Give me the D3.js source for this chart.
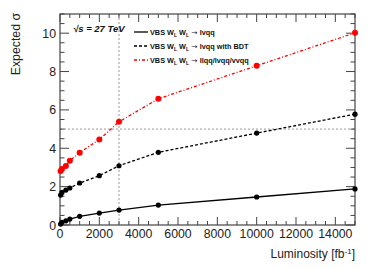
<!DOCTYPE html>
<html><head><meta charset="utf-8">
<script src="https://cdn.jsdelivr.net/npm/d3@7"></script>
<style>body{margin:0;background:#fff}svg{display:block}</style>
</head><body>
<svg id="c" width="374" height="269"></svg>
<script>
const lumi = [30, 100, 300, 500, 1000, 2000, 3000, 5000, 10000, 15000];
const sigLvqq = [0.05, 0.14, 0.22, 0.31, 0.45, 0.62, 0.78, 1.04, 1.46, 1.88];
const sigLvqqBDT = [1.56, 1.70, 1.82, 1.93, 2.19, 2.57, 3.09, 3.79, 4.79, 5.78];
const sigComb = [2.81, 2.92, 3.07, 3.35, 3.77, 4.46, 5.38, 6.58, 8.30, 10.02];
const xTicks = [0, 2000, 4000, 6000, 8000, 10000, 12000, 14000];
const yTicks = [0, 2, 4, 6, 8, 10];
const legendLabels = ["lvqq", "lvqq with BDT", "llqq/lvqq/vvqq"];

const svg = d3.select("#c");
const L = 60, R = 355, T = 14, B = 225;
const x = d3.scaleLinear().domain([0, 15000]).range([L, R]);
const y = d3.scaleLinear().domain([0, 11]).range([B, T]);
const font = "Liberation Sans, Arial, sans-serif";
const axCol = "#444";

// reference lines
svg.append("line").attr("x1", x(3000)).attr("x2", x(3000)).attr("y1", T).attr("y2", B)
  .attr("stroke", "#999").attr("stroke-width", 1).attr("stroke-dasharray", "2,2");
svg.append("line").attr("x1", L).attr("x2", R).attr("y1", y(5)).attr("y2", y(5))
  .attr("stroke", "#999").attr("stroke-width", 1).attr("stroke-dasharray", "2,2");

// ticks (inward, all four sides)
const xMinor = d3.range(0, 15001, 500);
const yMinor = d3.range(0, 11.001, 0.5);
const tg = svg.append("g").attr("stroke", axCol).attr("stroke-width", 1);
xMinor.forEach(v => {
  const major = v % 2000 === 0;
  const len = major ? 8 : 4;
  tg.append("line").attr("x1", x(v)).attr("x2", x(v)).attr("y1", B).attr("y2", B - len);
  tg.append("line").attr("x1", x(v)).attr("x2", x(v)).attr("y1", T).attr("y2", T + len);
});
yMinor.forEach(v => {
  const major = Math.abs(v % 2) < 1e-9;
  const len = major ? 9 : 4.5;
  tg.append("line").attr("y1", y(v)).attr("y2", y(v)).attr("x1", L).attr("x2", L + len);
  tg.append("line").attr("y1", y(v)).attr("y2", y(v)).attr("x1", R).attr("x2", R - len);
});

svg.append("rect").attr("x", L).attr("y", T).attr("width", R - L).attr("height", B - T)
  .attr("fill", "none").attr("stroke", axCol).attr("stroke-width", 1.2);

// tick labels
svg.append("g").selectAll("text").data(xTicks).join("text")
  .attr("x", d => x(d)).attr("y", 237.5).attr("text-anchor", "middle")
  .attr("font-family", font).attr("font-size", 12.3).attr("fill", "#222")
  .text(d => d);
svg.append("g").selectAll("text").data(yTicks).join("text")
  .attr("x", 56).attr("y", d => y(d) + 4.5).attr("text-anchor", "end")
  .attr("font-family", font).attr("font-size", 12.3).attr("fill", "#222")
  .text(d => d);

// titles
svg.append("text").attr("transform", "translate(20,13) rotate(-90)").attr("text-anchor", "end")
  .attr("font-family", font).attr("font-size", 12.3).attr("fill", "#222").text("Expected σ");
const xt = svg.append("text").attr("x", 355).attr("y", 258).attr("text-anchor", "end")
  .attr("font-family", font).attr("font-size", 12).attr("fill", "#222");
xt.append("tspan").text("Luminosity [fb");
xt.append("tspan").attr("dy", -4).attr("font-size", 8).text("-1");
xt.append("tspan").attr("dy", 4).text("]");

// series
const series = [
  {vals: sigLvqq, color: "#000", dash: null, r: 2.6},
  {vals: sigLvqqBDT, color: "#000", dash: "3,2", r: 2.6},
  {vals: sigComb, color: "#f00", dash: "3,2,1,2", r: 3}
];
const line = d3.line().x(d => x(d[0])).y(d => y(d[1]));
series.forEach(s => {
  const pts = lumi.map((l, i) => [l, s.vals[i]]);
  svg.append("path").datum(pts).attr("d", line).attr("fill", "none")
    .attr("stroke", s.color).attr("stroke-width", 1.3)
    .attr("stroke-dasharray", s.dash);
  svg.append("g").selectAll("circle").data(pts).join("circle")
    .attr("cx", d => x(d[0])).attr("cy", d => y(d[1])).attr("r", s.r).attr("fill", s.color);
});

// legend
svg.append("text").attr("x", 73).attr("y", 32).attr("font-family", font)
  .attr("font-size", 9.5).attr("font-weight", "bold").attr("font-style", "italic").attr("fill", "#111")
  .text("\u221As = 27 TeV");
const ly = [32, 46, 60];
series.forEach((s, i) => {
  svg.append("line").attr("x1", 134).attr("x2", 148).attr("y1", ly[i]).attr("y2", ly[i])
    .attr("stroke", s.color).attr("stroke-width", 1.3).attr("stroke-dasharray", s.dash);
  const t = svg.append("text").attr("x", 150).attr("y", ly[i] + 2.5).attr("font-family", font)
    .attr("font-size", 7.3).attr("font-weight", "bold").attr("fill", "#111");
  t.append("tspan").text("VBS W");
  t.append("tspan").attr("dy", 2).attr("font-size", 5).text("L");
  t.append("tspan").attr("dy", -2).text(" W");
  t.append("tspan").attr("dy", 2).attr("font-size", 5).text("L");
  t.append("tspan").attr("dy", -2).attr("font-family", "DejaVu Sans").attr("font-weight", "normal").text(" \u2192 ");
  t.append("tspan").text(legendLabels[i]);
});
</script>
</body></html>
